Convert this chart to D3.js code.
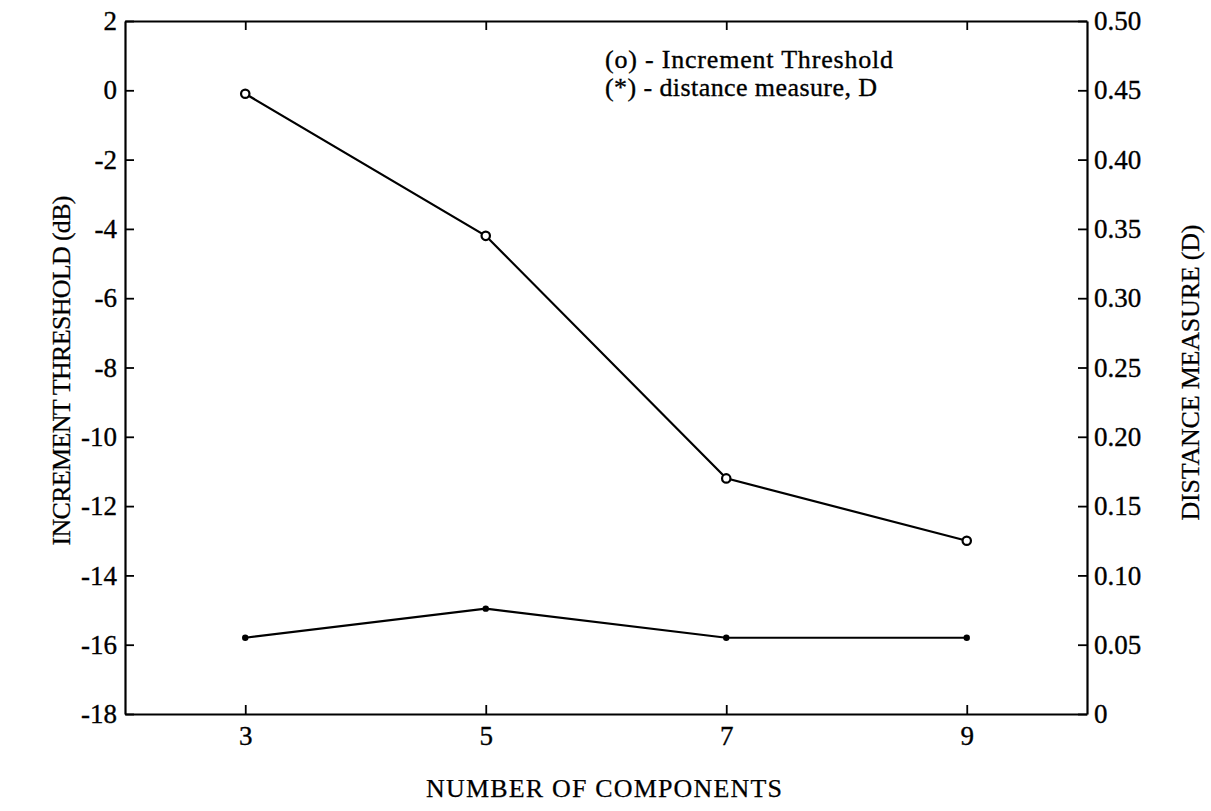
<!DOCTYPE html>
<html>
<head>
<meta charset="utf-8">
<script src="https://cdn.jsdelivr.net/npm/d3@7"></script>
<style>
  html, body { margin: 0; padding: 0; background: #fff; }
  svg { display: block; }
  text { font-family: "Liberation Serif", "Times New Roman", serif; fill: #000; }
</style>
</head>
<body>
<svg id="chart" width="1211" height="811"></svg>
<script>
// Number of components on the x axis
const components = [3, 5, 7, 9];
// Increment threshold in dB (left axis, open circles)
const thresholdDb = [-0.1, -4.2, -11.2, -13.0];
// Distance measure D (right axis, dots)
const distanceD = [0.055, 0.076, 0.055, 0.055];

const xTicks = [3, 5, 7, 9];
const leftTicks = [2, 0, -2, -4, -6, -8, -10, -12, -14, -16, -18];
const rightTicks = [0.5, 0.45, 0.4, 0.35, 0.3, 0.25, 0.2, 0.15, 0.1, 0.05, 0];

const svg = d3.select("#chart");
const m = { left: 125, right: 1087, top: 21, bottom: 714 };

const x = d3.scaleLinear().domain([2, 10]).range([m.left, m.right]);
const yL = d3.scaleLinear().domain([-18, 2]).range([m.bottom, m.top]);
const yR = d3.scaleLinear().domain([0, 0.5]).range([m.bottom, m.top]);

const tickLen = 9;
const fontSize = 27;

// bottom axis, ticks pointing into the plot
const gx = svg.append("g").attr("transform", `translate(0,${m.bottom})`)
  .call(d3.axisBottom(x).tickValues(xTicks).tickSizeInner(-tickLen).tickSizeOuter(0).tickPadding(12));
// top axis mirrors the x ticks without labels
const gxt = svg.append("g").attr("transform", `translate(0,${m.top})`)
  .call(d3.axisTop(x).tickValues(xTicks).tickSizeInner(-tickLen).tickSizeOuter(0).tickFormat(""));
// left axis (dB)
const gl = svg.append("g").attr("transform", `translate(${m.left},0)`)
  .call(d3.axisLeft(yL).tickValues(leftTicks).tickSizeInner(-tickLen).tickSizeOuter(0).tickPadding(8)
    .tickFormat(d => d < 0 ? "-" + Math.abs(d) : String(d)));
// right axis (D)
const gr = svg.append("g").attr("transform", `translate(${m.right},0)`)
  .call(d3.axisRight(yR).tickValues(rightTicks).tickSizeInner(-tickLen).tickSizeOuter(0).tickPadding(7)
    .tickFormat(d => d === 0 ? "0" : d3.format(".2f")(d)));

[gx, gxt, gl, gr].forEach(g => {
  g.selectAll(".domain").attr("stroke", "#000").attr("stroke-width", 2.2);
  g.selectAll(".tick line").attr("stroke", "#000").attr("stroke-width", 1.8);
  g.selectAll(".tick text").attr("font-size", fontSize)
    .attr("font-family", "Liberation Serif, serif").attr("fill", "#000")
    .attr("stroke", "#000").attr("stroke-width", 0.35);
});

// lines
const thrLine = d3.line().x((d, i) => x(components[i])).y(d => yL(d));
const distLine = d3.line().x((d, i) => x(components[i])).y(d => yR(d));

svg.append("path").datum(thresholdDb).attr("d", thrLine)
  .attr("fill", "none").attr("stroke", "#000").attr("stroke-width", 2.2);
svg.append("path").datum(distanceD).attr("d", distLine)
  .attr("fill", "none").attr("stroke", "#000").attr("stroke-width", 2.2);

svg.selectAll("circle.thr").data(thresholdDb).join("circle")
  .attr("class", "thr")
  .attr("cx", (d, i) => x(components[i])).attr("cy", d => yL(d))
  .attr("r", 4.2).attr("fill", "#fff").attr("stroke", "#000").attr("stroke-width", 2.2);
svg.selectAll("circle.dist").data(distanceD).join("circle")
  .attr("class", "dist")
  .attr("cx", (d, i) => x(components[i])).attr("cy", d => yR(d))
  .attr("r", 3.2).attr("fill", "#000");

// legend text
const legend = svg.append("g").attr("font-size", 26).attr("stroke", "#000").attr("stroke-width", 0.35);
legend.append("text").attr("x", 605).attr("y", 68)
  .attr("textLength", 288).attr("lengthAdjust", "spacing")
  .text("(o) - Increment Threshold");
legend.append("text").attr("x", 605).attr("y", 96)
  .attr("textLength", 272).attr("lengthAdjust", "spacing")
  .text("(*) - distance measure, D");

// axis titles
const titles = svg.append("g").attr("font-size", 26).attr("stroke", "#000").attr("stroke-width", 0.25);
titles.append("text").attr("x", (m.left + m.right) / 2 - 2).attr("y", 797)
  .attr("text-anchor", "middle").attr("textLength", 356).attr("lengthAdjust", "spacing")
  .text("NUMBER OF COMPONENTS");
titles.append("text").attr("transform", `translate(70,${(m.top + m.bottom) / 2 + 3}) rotate(-90)`)
  .attr("text-anchor", "middle").attr("textLength", 350).attr("lengthAdjust", "spacing")
  .text("INCREMENT THRESHOLD (dB)");
titles.append("text").attr("transform", `translate(1199,${(m.top + m.bottom) / 2 + 5}) rotate(-90)`)
  .attr("text-anchor", "middle").attr("textLength", 296).attr("lengthAdjust", "spacing")
  .text("DISTANCE MEASURE (D)");
</script>
</body>
</html>
